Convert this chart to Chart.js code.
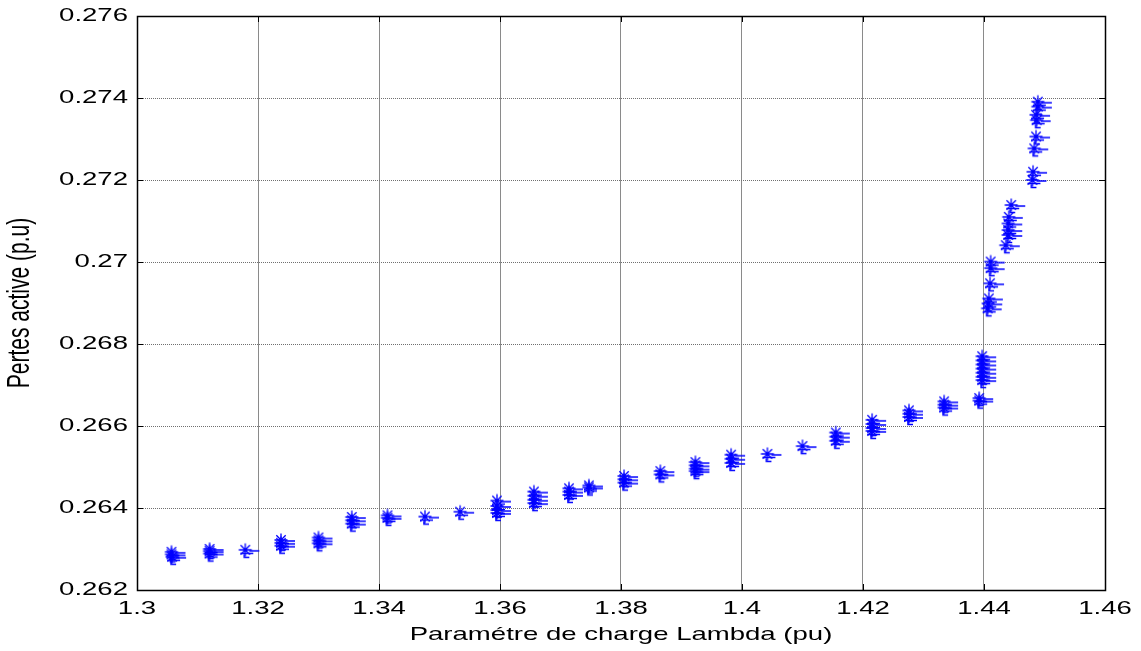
<!DOCTYPE html>
<html>
<head>
<meta charset="utf-8">
<title>Pertes actives</title>
<script src="https://cdn.jsdelivr.net/npm/chart.js@4.4.1/dist/chart.umd.min.js"></script>
<style>
  html, body { margin: 0; padding: 0; background: #ffffff; }
  #wrap { width: 1141px; height: 651px; }
</style>
</head>
<body>
<div id="wrap"><canvas id="pertes" width="1141" height="651"></canvas></div>
<script>
// load parameter (pu) and active losses (p.u) at each operating point
var lambdaVals = [
    1.3057, 1.3057, 1.3058,
    1.3120, 1.3120, 1.3120,
    1.3179,
    1.3238, 1.3238, 1.3238,
    1.3300, 1.3300, 1.3300,
    1.3355, 1.3355, 1.3355,
    1.3414, 1.3414,
    1.3476,
    1.3534,
    1.3595, 1.3595, 1.3595, 1.3595,
    1.3656, 1.3656, 1.3656, 1.3656,
    1.3714, 1.3714, 1.3714,
    1.3747, 1.3747,
    1.3805, 1.3805, 1.3805,
    1.3865, 1.3865,
    1.3923, 1.3923, 1.3923, 1.3923,
    1.3982, 1.3982, 1.3982,
    1.4042,
    1.4100,
    1.4155, 1.4155, 1.4155,
    1.4215, 1.4215, 1.4215, 1.4215,
    1.4276, 1.4276, 1.4276,
    1.4334, 1.4334, 1.4334,
    1.4392, 1.4392,
    1.4397, 1.4397, 1.4397, 1.4397, 1.4397, 1.4397, 1.4397,
    1.4406, 1.4407, 1.4408, 1.4410, 1.4411, 1.4411,
    1.4436, 1.4440, 1.4440, 1.4440, 1.4441, 1.4445,
    1.4480, 1.4481,
    1.4483, 1.4486, 1.4487, 1.4486, 1.4489, 1.4489
];
var pertesVals = [
    0.26293, 0.26287, 0.26281,
    0.26300, 0.26295, 0.26289,
    0.26298,
    0.26322, 0.26315, 0.26308,
    0.26328, 0.26321, 0.26314,
    0.26378, 0.26370, 0.26362,
    0.26382, 0.26376,
    0.26379,
    0.26391,
    0.26418, 0.26405, 0.26395, 0.26388,
    0.26440, 0.26430, 0.26420, 0.26412,
    0.26448, 0.26440, 0.26432,
    0.26455, 0.26450,
    0.26478, 0.26470, 0.26462,
    0.26490, 0.26482,
    0.26512, 0.26504, 0.26496, 0.26490,
    0.26530, 0.26520, 0.26510,
    0.26532,
    0.26551,
    0.26584, 0.26574, 0.26564,
    0.26615, 0.26605, 0.26595, 0.26588,
    0.26638, 0.26630, 0.26622,
    0.26660, 0.26652, 0.26645,
    0.26668, 0.26662,
    0.26712, 0.26720, 0.26730, 0.26740, 0.26750, 0.26760, 0.26770,
    0.26887, 0.26899, 0.26911, 0.26948, 0.26985, 0.27001,
    0.27041, 0.27066, 0.27078, 0.27094, 0.27110, 0.27139,
    0.27200, 0.27220,
    0.27277, 0.27306, 0.27346, 0.27359, 0.27379, 0.27391
];

var xTickVals = [1.3, 1.32, 1.34, 1.36, 1.38, 1.4, 1.42, 1.44, 1.46];
var yTickVals = [0.262, 0.264, 0.266, 0.268, 0.27, 0.272, 0.274, 0.276];

var STRETCH = 1.45;   // text is drawn wide, as in the exported figure
var BLUE = '#0000ff';
var FONT = 'Liberation Sans, Arial, sans-serif';

// asterisk marker with the little trailing dashes
function makeMarker() {
    var c = document.createElement('canvas');
    c.width = 34;
    c.height = 26;
    var g = c.getContext('2d');
    var cx = 17, cy = 13, r = 6.5, d = r * 0.72;
    g.strokeStyle = BLUE;
    g.lineWidth = 1.3;
    g.beginPath();
    g.moveTo(cx - r, cy); g.lineTo(cx + r, cy);
    g.moveTo(cx, cy - r); g.lineTo(cx, cy + r);
    g.moveTo(cx - d, cy - d); g.lineTo(cx + d, cy + d);
    g.moveTo(cx - d, cy + d); g.lineTo(cx + d, cy - d);
    g.stroke();
    g.lineWidth = 1.6;
    g.beginPath();
    g.moveTo(cx + 4, cy + 1); g.lineTo(cx + 14, cy + 1);
    g.moveTo(cx - 5, cy + 3.5); g.lineTo(cx + 8, cy + 3.5);
    g.moveTo(cx - 1, cy + 4.5); g.lineTo(cx - 1, cy + 7.5);
    g.lineTo(cx + 4, cy + 7.5);
    g.stroke();
    return c;
}

var points = lambdaVals.map(function (v, i) {
    return { x: v, y: pertesVals[i] };
});

function fmt(v) {
    return String(parseFloat(v.toFixed(4)));
}

// box around the axes with inward tick marks on all four sides
var frame = {
    id: 'frame',
    afterDraw: function (chart) {
        var ctx = chart.ctx, a = chart.chartArea;
        var xs = chart.scales.x, ys = chart.scales.y, t = 6;
        ctx.save();
        ctx.strokeStyle = '#000';
        ctx.lineWidth = 1;
        ctx.beginPath();
        xTickVals.forEach(function (v) {
            var px = Math.round(xs.getPixelForValue(v)) + 0.5;
            ctx.moveTo(px, a.bottom); ctx.lineTo(px, a.bottom - t);
            ctx.moveTo(px, a.top); ctx.lineTo(px, a.top + t);
        });
        yTickVals.forEach(function (v) {
            var py = Math.round(ys.getPixelForValue(v)) + 0.5;
            ctx.moveTo(a.left, py); ctx.lineTo(a.left + t, py);
            ctx.moveTo(a.right, py); ctx.lineTo(a.right - t, py);
        });
        ctx.stroke();
        ctx.lineWidth = 1.5;
        ctx.strokeRect(Math.round(a.left) + 0.5, Math.round(a.top) + 0.5,
            Math.round(a.right - a.left), Math.round(a.bottom - a.top));
        ctx.restore();
    }
};

var canvas = document.getElementById('pertes');
var ctx = canvas.getContext('2d');

// widen every label horizontally around its anchor point
var baseFillText = ctx.fillText;
ctx.fillText = function (text, x, y) {
    var m = this.getTransform();
    var p = m.transformPoint(new DOMPoint(x, y));
    this.save();
    this.setTransform(new DOMMatrix()
        .translate(p.x, p.y).scale(STRETCH, 1).translate(-p.x, -p.y)
        .multiply(m));
    baseFillText.apply(this, arguments);
    this.restore();
};

new Chart(ctx, {
    type: 'scatter',
    data: {
        datasets: [{
            data: points,
            pointStyle: makeMarker(),
            borderColor: BLUE,
            backgroundColor: BLUE
        }]
    },
    options: {
        responsive: false,
        animation: false,
        events: [],
        layout: { padding: { left: 0, right: 36, top: 16, bottom: 0 } },
        plugins: {
            legend: { display: false },
            tooltip: { enabled: false }
        },
        scales: {
            x: {
                type: 'linear',
                min: 1.3,
                max: 1.46,
                afterBuildTicks: function (s) {
                    s.ticks = xTickVals.map(function (v) { return { value: v }; });
                },
                afterFit: function (s) {
                    s.height = 61;
                    s.paddingLeft = 0;
                    s.paddingRight = 0;
                },
                ticks: {
                    autoSkip: false,
                    maxRotation: 0,
                    padding: 7,
                    color: '#000',
                    font: { family: FONT, size: 19 },
                    callback: fmt
                },
                grid: { color: '#8a8a8a', lineWidth: 1, drawTicks: false },
                border: { display: false },
                title: {
                    display: true,
                    text: 'Paramétre de charge Lambda (pu)',
                    color: '#000',
                    font: { family: FONT, size: 19 },
                    padding: { top: 0, bottom: 5 }
                }
            },
            y: {
                type: 'linear',
                min: 0.262,
                max: 0.276,
                afterBuildTicks: function (s) {
                    s.ticks = yTickVals.map(function (v) { return { value: v }; });
                },
                afterFit: function (s) {
                    s.width = 137;
                    s.paddingTop = 0;
                    s.paddingBottom = 0;
                },
                ticks: {
                    padding: 9,
                    color: '#000',
                    font: { family: FONT, size: 19 },
                    callback: fmt
                },
                grid: { color: '#707070', lineWidth: 1, drawTicks: false },
                border: { display: false, dash: [1, 1] },
                title: {
                    display: true,
                    text: 'Pertes active (p.u)',
                    color: '#000',
                    font: { family: FONT, size: 21 },
                    padding: { top: 8, bottom: 0 }
                }
            }
        }
    },
    plugins: [frame]
});
</script>
</body>
</html>
